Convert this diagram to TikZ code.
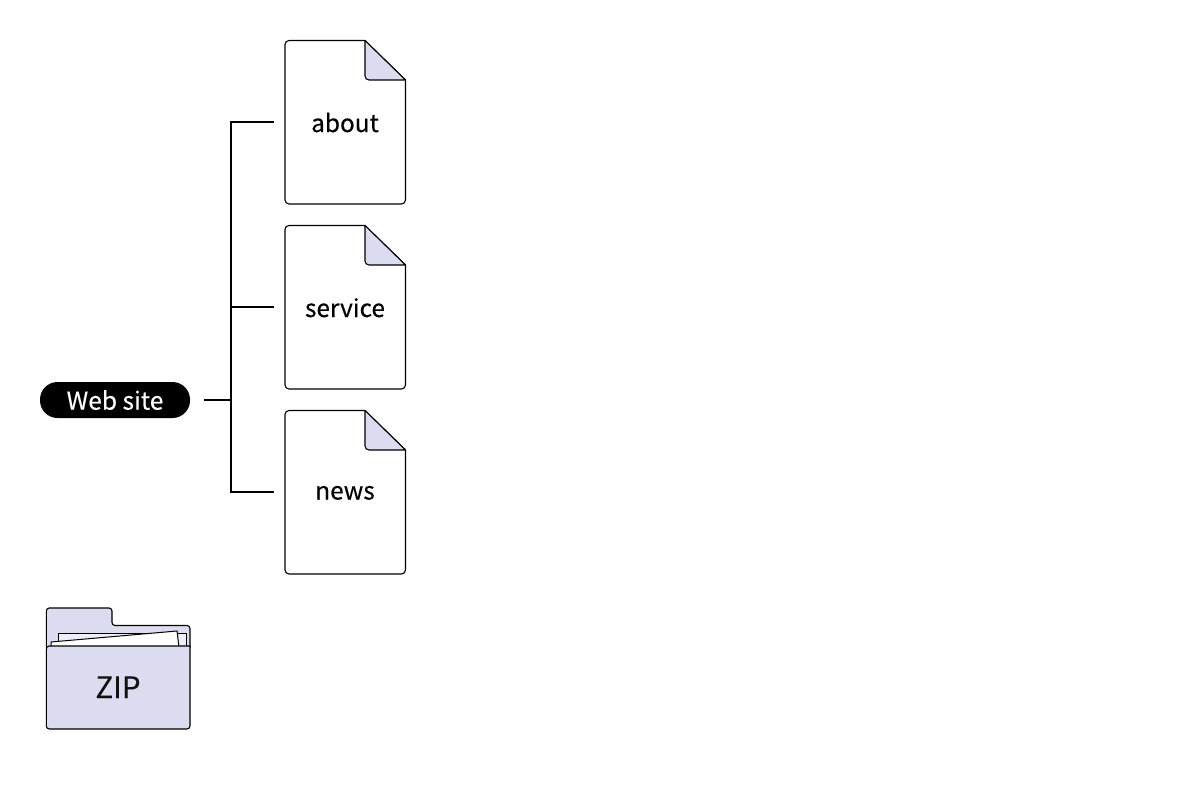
\documentclass[tikz,border=0pt]{standalone}
\usepackage{fontspec}
\setmainfont[FakeBold=0.25]{Noto Sans CJK JP}
\definecolor{lav}{HTML}{DBDCF0}
\definecolor{lavlight}{HTML}{EEEEFA}
\definecolor{ink}{HTML}{111111}
\tikzset{
  sheet/.style={draw=black,fill=white,line width=1.1pt,line join=round},
  fold/.style={draw=black,fill=lav,line width=1.1pt,line join=round},
  label/.style={font=\fontsize{24.4}{30}\selectfont,text=black,inner sep=0pt,anchor=base},
  wire/.style={draw=black,line width=2.4pt},
  pill/.style={fill=black,text=white,rounded corners=17.5pt,minimum width=150pt,minimum height=36pt,inner sep=0pt,font=\fontsize{24.6}{29}\selectfont},
  foldertext/.style={font=\fontsize{29.5}{36}\selectfont,text=ink,inner sep=0pt,anchor=base}
}
\newcommand{\docshape}[1]{%
  \path[sheet] (285,#1+4) arc[start angle=180,end angle=90,radius=4pt] -- (365,#1) -- (405.5,#1+39.5) -- (405.5,#1+159.5) arc[start angle=0,end angle=-90,radius=4pt] -- (289,#1+163.5) arc[start angle=-90,end angle=-180,radius=4pt] -- cycle;
  \path[fold] (365,#1) -- (405.5,#1+39.5) -- (369,#1+39.5) arc[start angle=-90,end angle=-180,radius=4pt] -- cycle;
}
\begin{document}
\begin{tikzpicture}[x=1pt,y=-1pt]
\useasboundingbox (0,0) rectangle (1200,800);
\fill[white] (0,0) rectangle (1200,800);
\docshape{40.5}
\docshape{225.5}
\docshape{410.5}
\node[label] (about) at (345,132) {about};
\node[label] (service) at (345,317) {service};
\node[label] (news) at (345,499.5) {news};
\node[pill] (site) at (115,400) {Web site};
\coordinate (stub) at (204,400.2);
\coordinate (hub) at (231,400.2);
\coordinate (aboutend) at (274,122.2);
\coordinate (serviceend) at (274,307.2);
\coordinate (newsend) at (274,492.2);
\draw[wire] (stub) -- (hub);
\draw[wire,line join=miter] (aboutend) -| (hub);
\draw[wire,line join=miter] (newsend) -| (hub);
\draw[wire] (serviceend) -- (serviceend -| hub);
% folder
\path[fold,rounded corners=3pt] (46.3,650) -- (46.3,608) -- (112,608) -- (112,625.5) -- (190,625.5) -- (190,650) -- cycle;
\path[draw=black,fill=lavlight,line width=1pt] (58,646) -- (58,633) -- (186,633) -- (186,646) -- cycle;
\path[draw=black,fill=white,line width=1pt] (51,647) -- (51,642) -- (177,631) -- (179,647) -- cycle;
\path[fold,rounded corners=3pt] (46.3,646) [sharp corners] -- (190,646) [rounded corners=3pt] -- (190,729) -- (46.3,729) -- cycle;
\node[foldertext] (zip) at (118,698) {ZIP};
\end{tikzpicture}
\end{document}
